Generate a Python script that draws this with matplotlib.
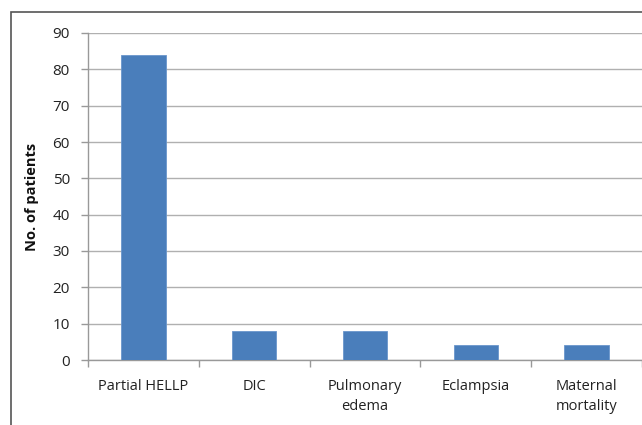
import matplotlib
matplotlib.use("Agg")
import matplotlib.pyplot as plt
from matplotlib.patches import Rectangle
import numpy as np

categories = ["Partial HELLP", "DIC", "Pulmonary\nedema", "Eclampsia", "Maternal\nmortality"]
patients = [84, 8, 8, 4, 4]
y_ticks = [0, 10, 20, 30, 40, 50, 60, 70, 80, 90]

plt.rcParams["font.family"] = ["Open Sans", "DejaVu Sans"]

fig = plt.figure(figsize=(6.42, 4.25), dpi=100)
fig.patch.set_facecolor("white")

# outer chart frame (runs off the right and bottom edges)
fig.add_artist(Rectangle((11 / 642, -0.2), 1.2, 1 - 11.5 / 425 + 0.2,
                         transform=fig.transFigure, fill=False,
                         edgecolor="#555555", linewidth=1.2))

ax = fig.add_axes([88 / 642, 65 / 425, (642 - 88) / 642, (360 - 33) / 425])

x = np.arange(len(categories))
ax.bar(x, patients, width=0.4, color="#4A7EBB", edgecolor="#6A96CC",
       linewidth=0.6, zorder=3)

ax.set_xlim(-0.5, len(categories) - 0.5)
ax.set_ylim(0, 90)
ax.set_yticks(y_ticks)
ax.set_yticklabels([str(v) for v in y_ticks], fontsize=11, color="#222222")
ax.yaxis.grid(True, color="#b0b0b0", linewidth=1.0, zorder=0)
ax.set_axisbelow(True)

# category labels at centres, tick marks at category boundaries
ax.set_xticks(x)
ax.set_xticklabels(categories, fontsize=10.5, color="#222222", linespacing=1.45)
ax.tick_params(axis="x", which="major", length=0, pad=14)
ax.set_xticks(np.arange(-0.5, len(categories) + 0.5, 1.0), minor=True)
ax.tick_params(axis="x", which="minor", length=5, color="#999999", width=1)
ax.tick_params(axis="y", length=5, color="#999999", width=1, pad=8)

for side in ("top", "right"):
    ax.spines[side].set_visible(False)
for side in ("left", "bottom"):
    ax.spines[side].set_color("#999999")
    ax.spines[side].set_linewidth(1.0)

ax.set_ylabel("No. of patients", fontsize=10.5, fontweight="bold",
              color="#111111", labelpad=10)

fig.savefig("out.png", dpi=100, facecolor="white")
